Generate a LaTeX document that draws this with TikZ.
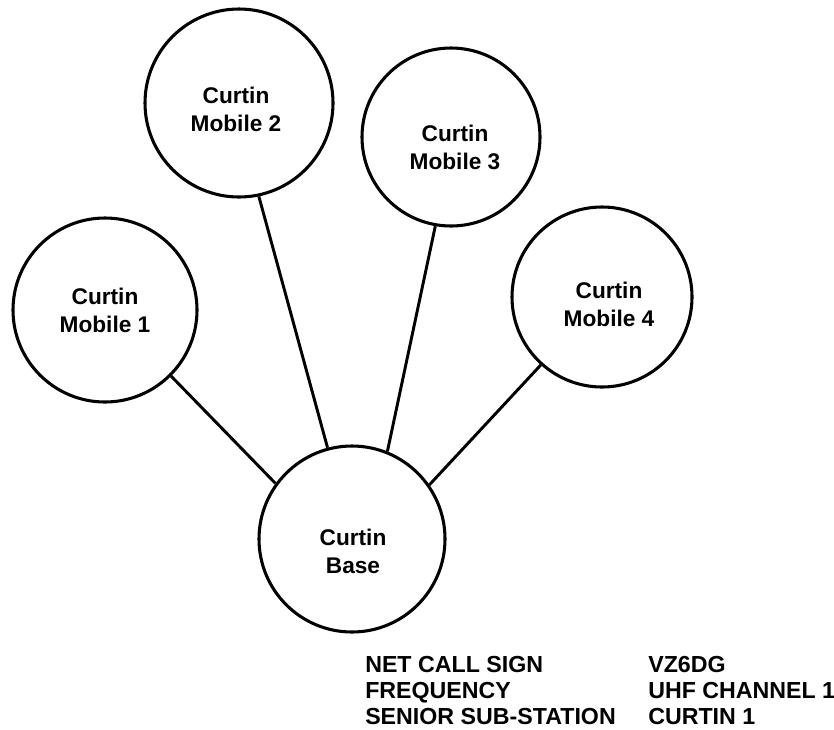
\documentclass[tikz,border=0pt]{standalone}
\usepackage{fontspec}
\setmainfont{Liberation Sans}
\usepackage{tikz}
\usetikzlibrary{positioning}

\begin{document}
\begin{tikzpicture}[
    x=0.75pt, y=-0.75pt,
    station/.style={circle, draw=black, line width=2.3pt, inner sep=0},
    tag/.style={align=center, inner sep=0, font=\bfseries\fontsize{17}{21}\selectfont},
    link/.style={line width=2.2pt},
    legend/.style={anchor=base west, inner sep=0, font=\bfseries\fontsize{17.4}{20}\selectfont}
  ]
  \useasboundingbox (0,0) rectangle (834,729);
  \node[station, minimum size=138pt] (m1) at (105,310) {};
  \node[station, minimum size=141pt] (m2) at (239,103) {};
  \node[station, minimum size=133.5pt] (m3) at (451,137) {};
  \node[station, minimum size=135pt] (m4) at (602,297) {};
  \node[station, minimum size=139.5pt] (base) at (352,539) {};

  % station names
  \node[tag] (m1name) at (105,310) {Curtin\\Mobile 1};
  \node[tag] (m2name) at (236,109) {Curtin\\Mobile 2};
  \node[tag] (m3name) at (455,147) {Curtin\\Mobile 3};
  \node[tag] (m4name) at (609,304) {Curtin\\Mobile 4};
  \node[tag] (basename) at (353,551) {Curtin\\Base};

  \draw[link] (m1.-45) -- (base.144);
  \draw[link] (m2.-78) -- (base.105);
  \draw[link] (m3.-100) -- (base.68);
  \draw[link] (m4.228) -- (base.35);

  % net details
  \node[legend] (callsign) at (365,672) {NET CALL SIGN};
  \node[legend] (freq) at (365,698) {FREQUENCY};
  \node[legend] (senior) at (365,724) {SENIOR SUB-STATION};
  \node[legend] (callsignval) at (648,672) {VZ6DG};
  \node[legend] (freqval) at (648,698) {UHF CHANNEL 1};
  \node[legend] (seniorval) at (648,724) {CURTIN 1};
\end{tikzpicture}
\end{document}
